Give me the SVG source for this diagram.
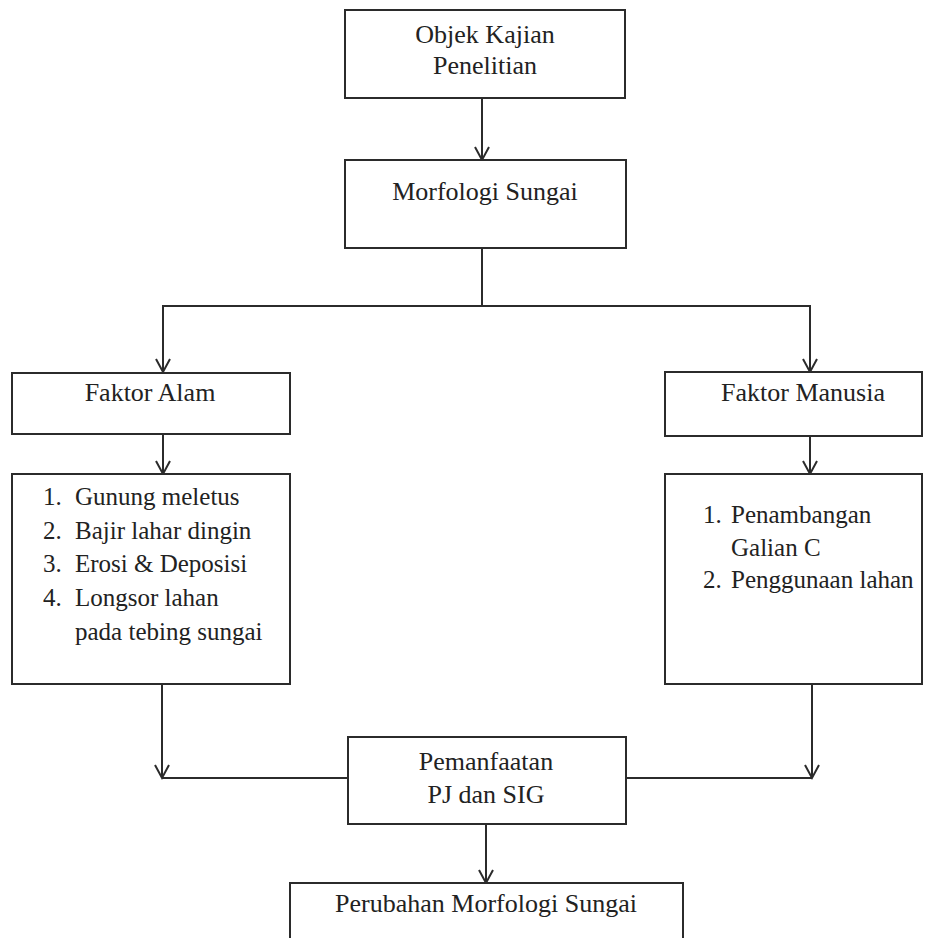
<svg xmlns="http://www.w3.org/2000/svg" width="934" height="938" viewBox="0 0 934 938">
<defs>
<marker id="arr" markerUnits="userSpaceOnUse" markerWidth="30" markerHeight="30" refX="0" refY="0" orient="auto" overflow="visible">
<path d="M-13,-7 L0,0 L-13,7" fill="none" stroke="#2b2b2b" stroke-width="2"/>
</marker>
<style>
.box{fill:#fff;stroke:#2b2b2b;stroke-width:2}
.t{font-family:'Liberation Serif','DejaVu Serif',serif;font-size:26px;fill:#222}
.c{text-anchor:middle}
.l{font-size:25px}
.ln{fill:none;stroke:#2b2b2b;stroke-width:2}
</style>
</defs>
<rect width="934" height="938" fill="#fff"/>
<g id="connectors">
<path class="ln" d="M482,98 V160" marker-end="url(#arr)"/>
<path class="ln" d="M482,248 V306 H163 V372" marker-end="url(#arr)"/>
<path class="ln" d="M482,306 H810 V372" marker-end="url(#arr)"/>
<path class="ln" d="M163,434 V474" marker-end="url(#arr)"/>
<path class="ln" d="M810,436 V474" marker-end="url(#arr)"/>
<path class="ln" d="M348,778 H162"/>
<path class="ln" d="M162,684 V778" marker-end="url(#arr)"/>
<path class="ln" d="M626,778 H812"/>
<path class="ln" d="M812,684 V778" marker-end="url(#arr)"/>
<path class="ln" d="M486,824 V883" marker-end="url(#arr)"/>
</g>
<g id="objek">
<rect class="box" x="345" y="10" width="280" height="88"/>
<text class="t c" x="485" y="43">Objek Kajian</text>
<text class="t c" x="485" y="74">Penelitian</text>
</g>
<g id="morfologi">
<rect class="box" x="345" y="160" width="281" height="88"/>
<text class="t c" x="485" y="200">Morfologi Sungai</text>
</g>
<g id="faktor-alam">
<rect class="box" x="12" y="373" width="278" height="61"/>
<text class="t c" x="150" y="401">Faktor Alam</text>
</g>
<g id="faktor-manusia">
<rect class="box" x="665" y="372" width="257" height="64"/>
<text class="t c" x="803" y="401">Faktor Manusia</text>
</g>
<g id="list-alam">
<rect class="box" x="12" y="474" width="278" height="210"/>
<text class="t l" x="43" y="505">1.</text><text class="t l" x="75" y="505">Gunung meletus</text>
<text class="t l" x="43" y="539">2.</text><text class="t l" x="75" y="539">Bajir lahar dingin</text>
<text class="t l" x="43" y="572">3.</text><text class="t l" x="75" y="572">Erosi &amp; Deposisi</text>
<text class="t l" x="43" y="606">4.</text><text class="t l" x="75" y="606">Longsor lahan</text>
<text class="t l" x="75" y="640">pada tebing sungai</text>
</g>
<g id="list-manusia">
<rect class="box" x="665" y="474" width="257" height="210"/>
<text class="t l" x="703" y="523">1.</text><text class="t l" x="731" y="523">Penambangan</text>
<text class="t l" x="731" y="556">Galian C</text>
<text class="t l" x="703" y="588">2.</text><text class="t l" x="731" y="588">Penggunaan lahan</text>
</g>
<g id="pemanfaatan">
<rect class="box" x="348" y="737" width="278" height="87"/>
<text class="t c" x="486" y="770">Pemanfaatan</text>
<text class="t c" x="486" y="803">PJ dan SIG</text>
</g>
<g id="perubahan">
<rect class="box" x="290" y="883" width="393" height="70"/>
<text class="t c" x="486" y="912">Perubahan Morfologi Sungai</text>
</g>
</svg>
